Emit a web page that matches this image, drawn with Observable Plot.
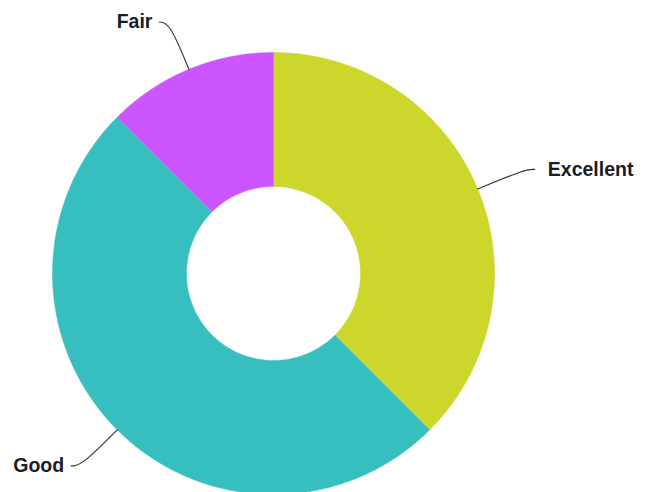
<!DOCTYPE html>
<html>
<head>
<meta charset="utf-8">
<script src="https://cdn.jsdelivr.net/npm/d3@7"></script>
<script src="https://cdn.jsdelivr.net/npm/@observablehq/plot@0.6"></script>
<style>
  html, body { margin: 0; padding: 0; background: #fff; }
  #chart svg { display: block; }
</style>
</head>
<body>
<div id="chart"></div>
<script>
// Data
const labels = ["Excellent", "Good", "Fair"];
const values = [3, 4, 1];
const colors = ["#cdd62b", "#37bfc0", "#cb55fe"];

// Layout
const W = 646, H = 492;
const cx = 273, cy = 273, R = 221, R0 = 87;
const elbowR = 272, ext = 10, gapLeft = 7, gapRight = 13;

const pie = d3.pie().sort(null).value(d => d.value)(labels.map((l, i) => ({label: l, value: values[i], color: colors[i]})));
const pt = (a, r) => [cx + r * Math.sin(a), cy - r * Math.cos(a)];

// slice polygons
const slices = pie.map(s => {
  const n = Math.max(8, Math.ceil((s.endAngle - s.startAngle) / 0.01));
  const pts = [];
  for (let k = 0; k <= n; k++) {
    const a = s.startAngle + (s.endAngle - s.startAngle) * k / n;
    const [x, y] = pt(a, R);
    pts.push({x, y});
  }
  for (let k = n; k >= 0; k--) {
    const a = s.startAngle + (s.endAngle - s.startAngle) * k / n;
    const [x, y] = pt(a, R0);
    pts.push({x, y});
  }
  return {label: s.data.label, color: s.data.color, pts};
});

// leader lines and labels
const leaders = [];
const texts = [];
pie.forEach(s => {
  const a = (s.startAngle + s.endAngle) / 2;
  const right = Math.sin(a) >= 0;
  const [x0, y0] = pt(a, R);
  const [x1, y1] = pt(a, elbowR);
  const x2 = x1 + (right ? ext : -ext);
  leaders.push({label: s.data.label, x: x0, y: y0});
  leaders.push({label: s.data.label, x: x1, y: y1});
  leaders.push({label: s.data.label, x: x2, y: y1});
  texts.push({label: s.data.label, x: x2 + (right ? gapRight : -gapLeft), y: y1, right});
});

const font = "'Liberation Sans', Arial, Helvetica, sans-serif";

const chart = Plot.plot({
  width: W,
  height: H,
  margin: 0,
  x: {domain: [0, W], range: [0, W], axis: null},
  y: {domain: [0, H], range: [0, H], axis: null},
  style: {background: "#fff", overflow: "visible"},
  marks: [
    ...slices.map(s => Plot.line(s.pts, {x: "x", y: "y", fill: s.color, stroke: s.color, strokeWidth: 0.5, curve: "linear"})),
    Plot.line(leaders, {x: "x", y: "y", z: "label", curve: "basis", stroke: "#2e2e38", strokeWidth: 1.1}),
    Plot.text(texts.filter(d => d.right), {x: "x", y: "y", text: "label", textAnchor: "start", fontSize: 19.5, fontWeight: "bold", fontFamily: font, fill: "#1c1c28"}),
    Plot.text(texts.filter(d => !d.right), {x: "x", y: "y", text: "label", textAnchor: "end", fontSize: 19.5, fontWeight: "bold", fontFamily: font, fill: "#1c1c28"})
  ]
});
document.getElementById("chart").appendChild(chart);
</script>
</body>
</html>
